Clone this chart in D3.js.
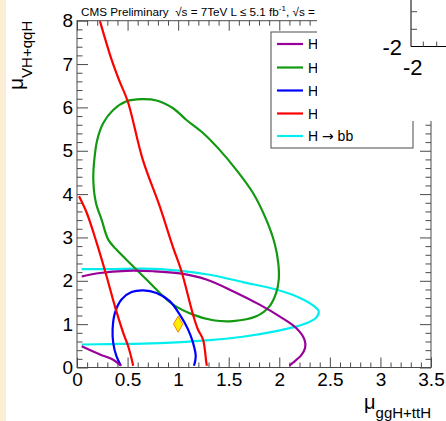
<!DOCTYPE html>
<html>
<head>
<meta charset="utf-8">
<script src="https://cdn.jsdelivr.net/npm/d3@7/dist/d3.min.js"></script>
<style>
  html, body { margin: 0; padding: 0; background: #fff; }
  svg { display: block; font-family: "Liberation Sans", Arial, Helvetica, sans-serif; }
</style>
</head>
<body>
<svg id="chart" width="446" height="421"></svg>
<script>
// Axis ranges and tick values
const xDomain = [0, 3.5];
const yDomain = [0, 8];
const xMajorTicks = [0, 0.5, 1, 1.5, 2, 2.5, 3, 3.5];
const xTickLabels = ["0", "0.5", "1", "1.5", "2", "2.5", "3", "3.5"];
const yMajorTicks = [0, 1, 2, 3, 4, 5, 6, 7, 8];
const yTickLabels = ["0", "1", "2", "3", "4", "5", "6", "7", "8"];

// 68% CL contours in (mu_ggH+ttH, mu_VH+qqH)
// H -> gamma gamma (two open pieces)
const gammaGammaUpper = [
  [0.046, 2.10], [0.227, 2.18], [0.49, 2.23], [0.753, 2.22], [1.016, 2.17],
  [1.279, 2.03], [1.542, 1.76], [1.805, 1.45], [2.002, 1.18], [2.167, 0.91],
  [2.249, 0.645], [2.255, 0.45], [2.216, 0.28], [2.134, 0.11], [2.10, 0.04]
];
const gammaGammaLower = [
  [0.046, 0.49], [0.227, 0.30], [0.358, 0.18], [0.434, 0.04]
];
// H -> WW (closed)
const wwContour = [
  [0.638, 6.19], [0.786, 6.16], [0.95, 5.98], [1.082, 5.71], [1.246, 5.41],
  [1.41, 5.02], [1.575, 4.56], [1.739, 4.03], [1.871, 3.41], [1.953, 2.87],
  [1.99, 2.41], [1.995, 2.03], [1.969, 1.72], [1.903, 1.41], [1.772, 1.18],
  [1.542, 1.07], [1.345, 1.09], [1.147, 1.22], [0.95, 1.45], [0.819, 1.72],
  [0.687, 2.03], [0.539, 2.37], [0.39, 2.72], [0.309, 2.95], [0.243, 3.41],
  [0.187, 3.80], [0.161, 4.33], [0.171, 4.79], [0.2, 5.25], [0.26, 5.64],
  [0.358, 5.94], [0.49, 6.14]
];
// H -> ZZ (open at the bottom)
const zzContour = [
  [0.434, 0.04], [0.39, 0.26], [0.358, 0.57], [0.352, 0.88], [0.375, 1.26],
  [0.44, 1.57], [0.539, 1.74], [0.654, 1.78], [0.786, 1.72], [0.917, 1.53],
  [1.016, 1.22], [1.098, 0.88], [1.147, 0.57], [1.174, 0.26], [1.157, 0.04]
];
// H -> tau tau (band edges)
const tauTauLeft = [
  [0.02, 3.95], [0.096, 3.57], [0.194, 2.88], [0.293, 2.10], [0.375, 1.41],
  [0.457, 0.80], [0.506, 0.49], [0.549, 0.11], [0.555, 0.04]
];
const tauTauRight = [
  [0.227, 7.99], [0.342, 7.10], [0.414, 6.64], [0.503, 6.13], [0.651, 4.79],
  [0.819, 3.71], [0.947, 2.79], [1.033, 2.22], [1.147, 1.22], [1.196, 0.876],
  [1.246, 0.645], [1.279, 0.11], [1.285, 0.04]
];
// H -> bb (open at the left)
const bbContour = [
  [0.046, 2.27], [0.325, 2.27], [0.654, 2.28], [0.983, 2.24], [1.312, 2.14],
  [1.64, 1.97], [1.969, 1.80], [2.2, 1.61], [2.347, 1.41], [2.39, 1.30],
  [2.364, 1.15], [2.232, 0.99], [1.969, 0.84], [1.64, 0.71], [1.312, 0.63],
  [0.983, 0.58], [0.654, 0.55], [0.325, 0.54], [0.046, 0.53]
];
// SM expectation
const smPoint = [1, 1];

const legendLabels = ["H", "H", "H", "H", "H \u2192 bb"];
const legendColors = ["#990099", "#119911", "#0000ff", "#ff0000", "#00eeee"];

const svg = d3.select("#chart");
const x = d3.scaleLinear().domain(xDomain).range([77, 431]);
const y = d3.scaleLinear().domain(yDomain).range([367.5, 20.7]);

// page strip on the left edge
svg.append("rect").attr("x", 0).attr("y", 0).attr("width", 6).attr("height", 421)
  .attr("fill", "#fbeed4");

const axisColor = "#4a4a4a";
const fontSize = 19;

// frame
svg.append("rect")
  .attr("x", x(0)).attr("y", y(8))
  .attr("width", x(3.5) - x(0)).attr("height", y(0) - y(8))
  .attr("fill", "none").attr("stroke", axisColor).attr("stroke-width", 1);

const xMinor = d3.range(1, 35).map(i => i / 10).filter(v => Math.abs(v * 2 - Math.round(v * 2)) > 1e-6);
const yMinor = d3.range(1, 40).map(i => i / 5).filter(v => Math.abs(v - Math.round(v)) > 1e-6);

function styleAxis(g) {
  g.select(".domain").remove();
  g.selectAll(".tick line").attr("stroke", axisColor);
  g.selectAll("text").attr("font-size", fontSize).attr("fill", "#000")
    .attr("font-family", "\"Liberation Sans\", Arial, sans-serif");
}

// bottom
svg.append("g").attr("transform", `translate(0,${y(0)})`)
  .call(d3.axisBottom(x).tickValues(xMajorTicks).tickSize(-10).tickPadding(5)
    .tickFormat((d, i) => xTickLabels[i]))
  .call(styleAxis);
svg.append("g").attr("transform", `translate(0,${y(0)})`)
  .call(d3.axisBottom(x).tickValues(xMinor).tickSize(-5).tickFormat(""))
  .call(styleAxis);
// top
svg.append("g").attr("transform", `translate(0,${y(8)})`)
  .call(d3.axisTop(x).tickValues(xMajorTicks).tickSize(-10).tickFormat(""))
  .call(styleAxis);
svg.append("g").attr("transform", `translate(0,${y(8)})`)
  .call(d3.axisTop(x).tickValues(xMinor).tickSize(-5).tickFormat(""))
  .call(styleAxis);
// left
svg.append("g").attr("transform", `translate(${x(0)},0)`)
  .call(d3.axisLeft(y).tickValues(yMajorTicks).tickSize(-11).tickPadding(4)
    .tickFormat((d, i) => yTickLabels[i]))
  .call(styleAxis);
svg.append("g").attr("transform", `translate(${x(0)},0)`)
  .call(d3.axisLeft(y).tickValues(yMinor).tickSize(-5.5).tickFormat(""))
  .call(styleAxis);
// right
svg.append("g").attr("transform", `translate(${x(3.5)},0)`)
  .call(d3.axisRight(y).tickValues(yMajorTicks).tickSize(-11).tickFormat(""))
  .call(styleAxis);
svg.append("g").attr("transform", `translate(${x(3.5)},0)`)
  .call(d3.axisRight(y).tickValues(yMinor).tickSize(-5.5).tickFormat(""))
  .call(styleAxis);

// contours
const openLine = d3.line().x(d => x(d[0])).y(d => y(d[1])).curve(d3.curveCatmullRom.alpha(0.5));
const closedLine = d3.line().x(d => x(d[0])).y(d => y(d[1])).curve(d3.curveCatmullRomClosed.alpha(0.5));

const curves = [
  { data: bbContour, color: legendColors[4], gen: openLine },
  { data: wwContour, color: legendColors[1], gen: closedLine },
  { data: zzContour, color: legendColors[2], gen: openLine },
  { data: gammaGammaUpper, color: legendColors[0], gen: openLine },
  { data: gammaGammaLower, color: legendColors[0], gen: openLine },
  { data: tauTauLeft, color: legendColors[3], gen: openLine },
  { data: tauTauRight, color: legendColors[3], gen: openLine }
];
svg.append("g").selectAll("path").data(curves).join("path")
  .attr("d", c => c.gen(c.data))
  .attr("fill", "none")
  .attr("stroke", c => c.color)
  .attr("stroke-width", 2.2)
  .attr("stroke-linejoin", "round");

// SM point
svg.append("path")
  .attr("transform", `translate(${x(smPoint[0])},${y(smPoint[1])})`)
  .attr("d", d3.symbol(d3.symbolDiamond, 75)())
  .attr("fill", "#ffee00").attr("stroke", "#f08a00").attr("stroke-width", 1);

// legend
const legend = svg.append("g");
legend.append("rect").attr("x", 271).attr("y", 32).attr("width", 142).attr("height", 116)
  .attr("fill", "#fff").attr("stroke", axisColor).attr("stroke-width", 1);
const rowY = [44, 67.5, 90.5, 113.5, 136];
legendLabels.forEach((lab, i) => {
  legend.append("line").attr("x1", 277).attr("x2", 303).attr("y1", rowY[i]).attr("y2", rowY[i])
    .attr("stroke", legendColors[i]).attr("stroke-width", 2.2);
  const t = legend.append("text").attr("x", 308).attr("y", rowY[i] + 5).attr("font-size", 14)
    .attr("fill", "#000");
  const parts = lab.split("\u2192");
  t.append("tspan").text(parts[0]);
  if (parts.length > 1) {
    t.append("tspan").attr("font-family", "\"DejaVu Sans\", sans-serif").text("\u2192");
    t.append("tspan").text(parts[1]);
  }
});

// title
const title = svg.append("text").attr("x", 81).attr("y", 16).attr("font-size", 11.7).attr("fill", "#000");
title.append("tspan").text("CMS Preliminary\u00a0\u00a0\u221as = 7TeV L \u2264 5.1 fb");
title.append("tspan").attr("font-size", 8).attr("dy", -5).text("-1");
title.append("tspan").attr("dy", 5).text(", \u221as =");

// axis titles
const xt = svg.append("text").attr("x", 431).attr("y", 409).attr("text-anchor", "end").attr("fill", "#000");
xt.append("tspan").attr("font-size", 20).text("\u03bc");
xt.append("tspan").attr("font-size", 15).attr("dy", 9).text("ggH+ttH");

const yt = svg.append("text").attr("transform", "translate(23,90) rotate(-90)").attr("fill", "#000");
yt.append("tspan").attr("font-size", 21).text("\u03bc");
yt.append("tspan").attr("font-size", 15).attr("dy", 9).text("VH+qqH");

// neighbouring panel in the upper right corner
const panel = svg.append("g");
panel.append("rect").attr("x", 317).attr("y", 0).attr("width", 129).attr("height", 121).attr("fill", "#fff");
panel.append("line").attr("x1", 411).attr("x2", 411).attr("y1", 0).attr("y2", 46.5).attr("stroke", "#000");
panel.append("line").attr("x1", 411).attr("x2", 446).attr("y1", 46.5).attr("y2", 46.5).attr("stroke", "#000");
[11.7, 29.3].forEach(v => panel.append("line").attr("x1", 411).attr("x2", 417).attr("y1", v).attr("y2", v).attr("stroke", axisColor));
[423.3, 436.7].forEach(v => panel.append("line").attr("x1", v).attr("x2", v).attr("y1", 41.5).attr("y2", 46.5).attr("stroke", axisColor));
panel.append("text").attr("x", 402).attr("y", 55).attr("text-anchor", "end").attr("font-size", 22).text("-2");
panel.append("text").attr("x", 403).attr("y", 75).attr("text-anchor", "start").attr("font-size", 22).text("-2");
</script>
</body>
</html>
